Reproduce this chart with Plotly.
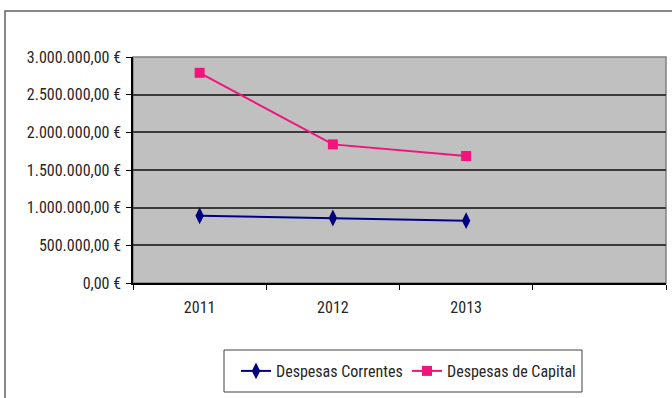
import plotly.graph_objects as go

# Yearly expenditure, in euros
years = ["2011", "2012", "2013"]
despesas_correntes = [893000, 863000, 827000]
despesas_capital = [2790000, 1840000, 1686000]
y_ticks = [0, 500000, 1000000, 1500000, 2000000, 2500000, 3000000]


def euro(v):
    s = f"{v:,.2f}".replace(",", "X").replace(".", ",").replace("X", ".")
    return s + " €"


y_ticktext = [euro(v) for v in y_ticks]

FONT = "Roboto Condensed, Arial Narrow, Arial, sans-serif"
TEXT_COLOR = "#262626"
W, H = 672, 398
ML, MR, MT, MB = 133, 6, 57, 115
PW, PH = W - ML - MR, H - MT - MB


def px_to_paper(px, py):
    return (px - ML) / PW, (H - MB - py) / PH


xs = list(range(len(years)))

fig = go.Figure()
fig.add_trace(go.Scatter(
    x=xs, y=despesas_correntes, name="Despesas Correntes",
    mode="lines+markers", legend="legend",
    line=dict(color="#000080", width=2),
    marker=dict(symbol="diamond-tall", size=12, color="#000080"),
))
fig.add_trace(go.Scatter(
    x=xs, y=despesas_capital, name="Despesas de Capital",
    mode="lines+markers", legend="legend2",
    line=dict(color="#F0147C", width=2),
    marker=dict(symbol="square", size=10, color="#F0147C"),
))

# outer chart frame (extends past the right and bottom edges)
fx0, fy0 = px_to_paper(5, 11)
fx1, fy1 = px_to_paper(W + 20, H + 20)
# legend box
bx0, by0 = px_to_paper(224, 350)
bx1, by1 = px_to_paper(582, 392)
shapes = [
    dict(type="rect", xref="paper", yref="paper", x0=fx0, y0=fy1, x1=fx1, y1=fy0,
         line=dict(color="#606060", width=1.5), fillcolor="rgba(0,0,0,0)", layer="below"),
    dict(type="rect", xref="paper", yref="paper", x0=0, y0=0, x1=1, y1=1,
         line=dict(color="#808080", width=1.5), fillcolor="rgba(0,0,0,0)", layer="below"),
    dict(type="rect", xref="paper", yref="paper", x0=bx0, y0=by1, x1=bx1, y1=by0,
         line=dict(color="#404040", width=1), fillcolor="white", layer="below"),
]

l1x, ly = px_to_paper(236, 371)
l2x, _ = px_to_paper(407, 371)
text_font = dict(family=FONT, size=16, color=TEXT_COLOR)
legend_common = dict(
    orientation="h", y=ly, xanchor="left", yanchor="middle",
    borderwidth=0, bgcolor="rgba(0,0,0,0)",
    font=text_font,
    itemwidth=30,
)

fig.update_layout(
    width=W, height=H,
    margin=dict(l=ML, r=MR, t=MT, b=MB, pad=0),
    paper_bgcolor="white",
    plot_bgcolor="#C0C0C0",
    font=text_font,
    showlegend=True,
    legend=dict(x=l1x, **legend_common),
    legend2=dict(x=l2x, **legend_common),
    shapes=shapes,
    xaxis=dict(
        range=[-0.5, 3.5],
        tickmode="array", tickvals=xs, ticktext=years,
        ticks="", showgrid=False, zeroline=False,
        ticklabelstandoff=9,
        showline=True, linecolor="black", linewidth=1.5,
        minor=dict(tick0=-0.5, dtick=1, ticks="outside", ticklen=5,
                   tickcolor="black", tickwidth=1, showgrid=False),
        tickfont=text_font,
        fixedrange=True,
    ),
    yaxis=dict(
        range=[0, 3000000],
        tickmode="array", tickvals=y_ticks, ticktext=y_ticktext,
        ticks="outside", ticklen=5, tickcolor="black", tickwidth=1,
        ticklabelstandoff=2,
        showgrid=True, gridcolor="#3a3a3a", gridwidth=1.5,
        zeroline=False,
        showline=True, linecolor="black", linewidth=1.5,
        tickfont=text_font,
        fixedrange=True,
    ),
)

fig.write_html("out.html")
